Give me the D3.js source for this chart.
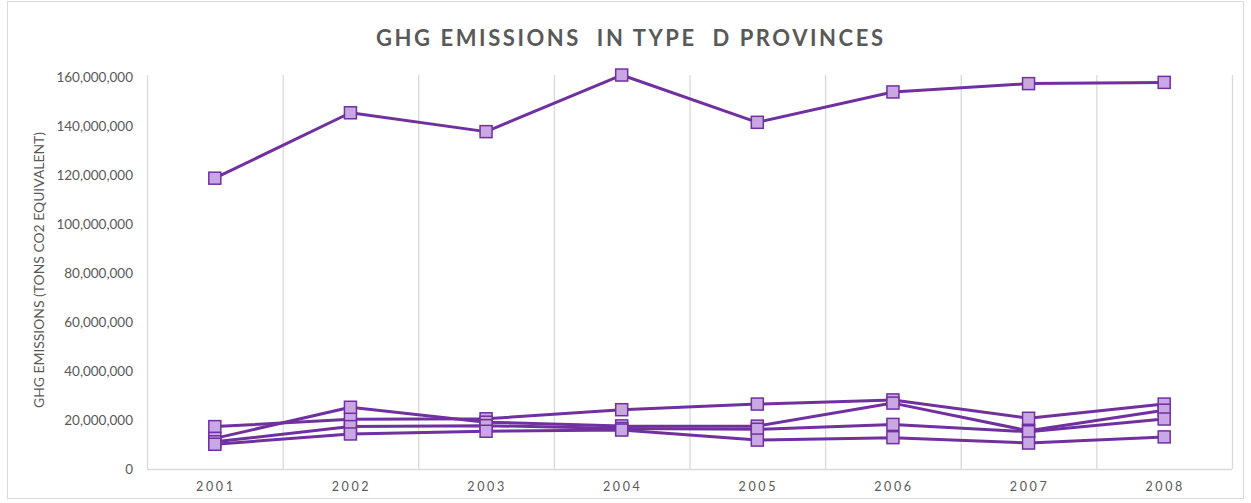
<!DOCTYPE html>
<html><head><meta charset="utf-8">
<script src="https://cdn.jsdelivr.net/npm/d3@7"></script>
<style>body{margin:0;background:#fff;} svg{display:block;}</style>
</head><body><svg id="c" width="1251" height="503"></svg>
<script>
const years = ["2001","2002","2003","2004","2005","2006","2007","2008"];
const seriesE = [118.7e6,145.4e6,137.7e6,160.8e6,141.5e6,153.9e6,157.3e6,157.8e6];
const seriesA = [17.3e6,20.3e6,20.5e6,24.2e6,26.5e6,28.2e6,20.7e6,26.5e6];
const seriesB = [12.5e6,25.2e6,19.1e6,17.6e6,17.5e6,26.9e6,15.6e6,24.0e6];
const seriesC = [11.1e6,17.3e6,17.7e6,16.5e6,16.2e6,18.2e6,15.2e6,20.4e6];
const seriesD = [10.1e6,14.3e6,15.4e6,15.9e6,11.8e6,12.8e6,10.6e6,13.1e6];
const yTicks = [0,20e6,40e6,60e6,80e6,100e6,120e6,140e6,160e6];
const title = "GHG EMISSIONS  IN TYPE  D PROVINCES";
const yTitle = "GHG EMISSIONS (TONS CO2 EQUIVALENT)";

const allSeries = [seriesE, seriesA, seriesB, seriesC, seriesD];
const svg = d3.select("#c");
const font = "Lato, 'Open Sans', sans-serif";
const grey = "#595959";

svg.append("rect").attr("x",7.5).attr("y",1.5).attr("width",1236).attr("height",497)
  .attr("fill","#fff").attr("stroke","#d9d9d9");

const x = d3.scaleBand().domain(years).range([147,1232]).padding(0);
const y = d3.scaleLinear().domain([0,160e6]).range([469,77]);

// vertical gridlines at band edges
const edges = years.map(d=>x(d)).concat([x.range()[1]]);
svg.append("g").selectAll("line").data(edges).join("line")
  .attr("x1",d=>d+0.5).attr("x2",d=>d+0.5).attr("y1",y(160e6)-2).attr("y2",y(0))
  .attr("stroke","#d9d9d9").attr("stroke-width",1.3);

// x axis line
svg.append("line").attr("x1",147).attr("x2",1232).attr("y1",y(0)+0.5).attr("y2",y(0)+0.5)
  .attr("stroke","#d9d9d9").attr("stroke-width",1.3);

// y tick labels
const fmt = d3.format(",");
svg.append("g").selectAll("text").data(yTicks).join("text")
  .attr("x",133).attr("y",d=>y(d)).attr("dy","0.35em")
  .attr("text-anchor","end").attr("font-family",font).attr("font-size","13.5px")
  .attr("fill",grey).text(d=>fmt(d));

// x tick labels
svg.append("g").selectAll("text").data(years).join("text")
  .attr("x",d=>x(d)+x.bandwidth()/2+1).attr("y",487).attr("dy","0.35em")
  .attr("text-anchor","middle").attr("font-family",font).attr("font-size","12.5px")
  .attr("letter-spacing","2.6px").attr("fill",grey).text(d=>d);

// title
svg.append("text").attr("x",376).attr("y",38).attr("dy","0.35em")
  .attr("font-family",font).attr("font-weight","bold").attr("font-size","22px")
  .attr("fill",grey).attr("textLength",507).attr("lengthAdjust","spacing")
  .style("white-space","pre").text(title);

// y title
svg.append("text").attr("transform","translate(40,270) rotate(-90)")
  .attr("text-anchor","middle").attr("dy","0.35em")
  .attr("font-family",font).attr("font-size","12.5px").attr("fill",grey)
  .attr("textLength",276).attr("lengthAdjust","spacingAndGlyphs").text(yTitle);

const line = d3.line().x((d,i)=>x(years[i])+x.bandwidth()/2).y(d=>y(d));
const ms = 12;
allSeries.forEach(s=>{
  const g = svg.append("g");
  g.append("path").datum(s).attr("d",line).attr("fill","none")
    .attr("stroke","#7030a0").attr("stroke-width",3).attr("stroke-linejoin","round");
  g.selectAll("rect").data(s).join("rect")
    .attr("x",(d,i)=>x(years[i])+x.bandwidth()/2-ms/2)
    .attr("y",d=>y(d)-ms/2).attr("width",ms).attr("height",ms)
    .attr("fill","#c9a6e4").attr("stroke","#7030a0").attr("stroke-width",1.5);
});
</script></body></html>
